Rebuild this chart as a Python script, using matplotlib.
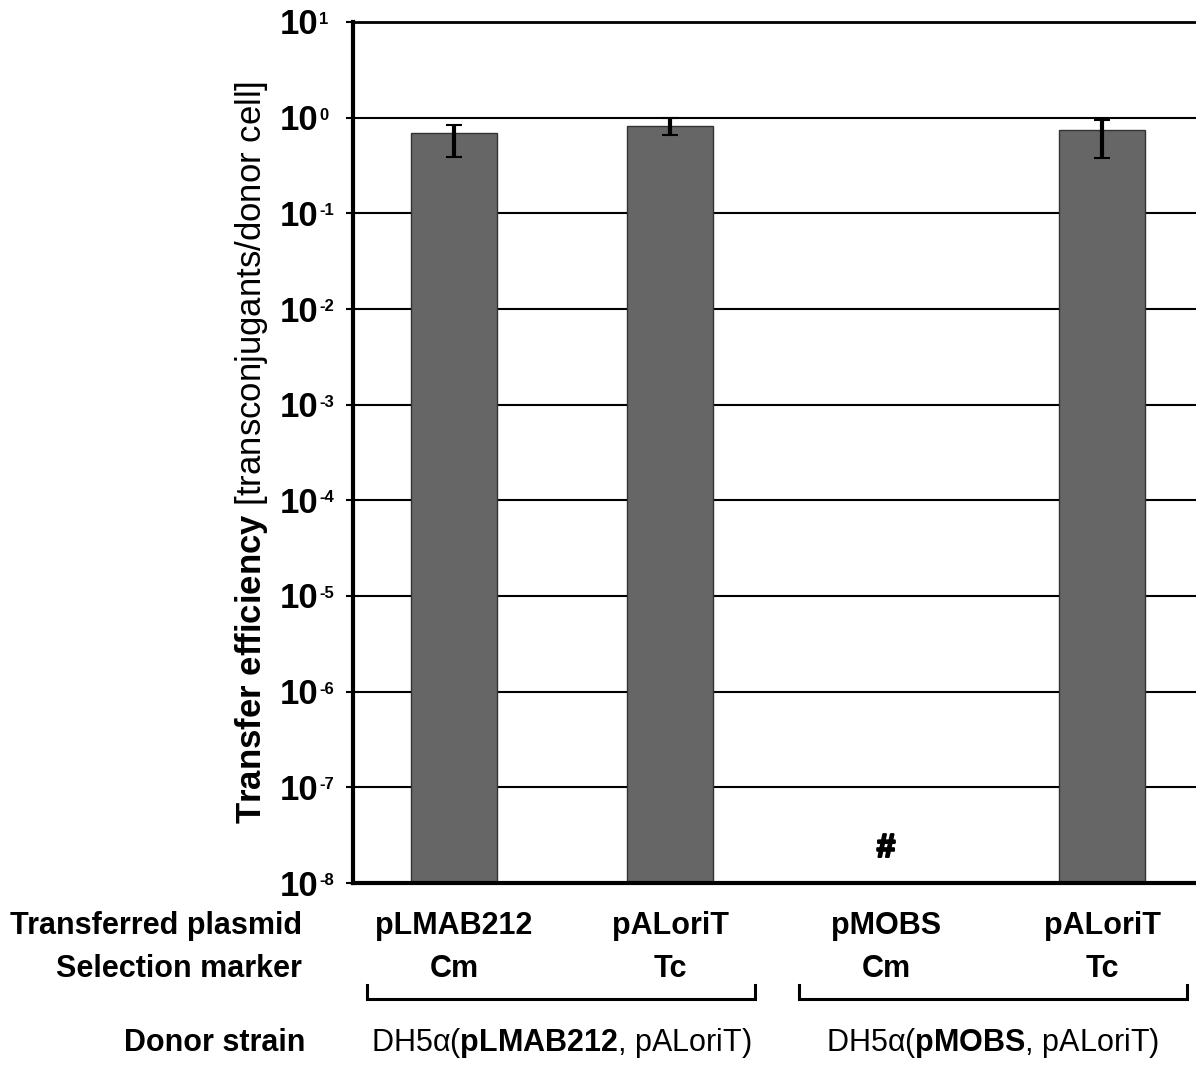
import matplotlib
matplotlib.use("Agg")
import matplotlib.pyplot as plt
import matplotlib.transforms as mtransforms
import matplotlib.patheffects as pe
import numpy as np

plt.rcParams['font.family'] = ['Liberation Sans', 'DejaVu Sans']
plt.rcParams['mathtext.fontset'] = 'custom'
plt.rcParams['mathtext.rm'] = 'Liberation Sans'
plt.rcParams['mathtext.bf'] = 'Liberation Sans:bold'
plt.rcParams['mathtext.it'] = 'Liberation Sans:italic'

# data
plasmids = ["pLMAB212", "pALoriT", "pMOBS", "pALoriT"]
markers = ["Cm", "Tc", "Cm", "Tc"]
efficiency = [0.69, 0.82, np.nan, 0.74]     # pMOBS: none detected (#)
err_low = [0.30, 0.16, np.nan, 0.36]
err_high = [0.15, 0.18, np.nan, 0.21]
decades = list(range(-8, 2))
donors = [r"DH5α($\mathbf{pLMAB212}$, pALoriT)", r"DH5α($\mathbf{pMOBS}$, pALoriT)"]
donor_groups = [(0, 1), (2, 3)]
not_detected = [2]

W, H = 1196, 1067
fig = plt.figure(figsize=(W / 100, H / 100), dpi=100)
ax = fig.add_axes([353 / W, 1 - 883 / H, 1 - 353 / W, (883 - 22) / H])

x = np.arange(len(plasmids))
eff = np.array(efficiency)
ok = ~np.isnan(eff)
ax.bar(x[ok], eff[ok], width=0.4, bottom=1e-8, color='#666666',
       edgecolor='#333333', linewidth=1.0, zorder=3)
ax.errorbar(x[ok], eff[ok], yerr=[np.array(err_low)[ok], np.array(err_high)[ok]],
            fmt='none', ecolor='black', elinewidth=3, capsize=6, capthick=1.5, zorder=4)
for i in not_detected:
    ax.text(i, 2.3e-8, "#", ha='center', va='center', fontsize=24, fontweight='bold',
            path_effects=[pe.withStroke(linewidth=1.6, foreground='black')])

ax.set_yscale('log')
ax.set_ylim(1e-8, 10)
ax.set_xlim(-0.468, 3.435)
ax.set_yticks([10.0 ** k for k in decades])
ax.set_yticklabels([])
ax.yaxis.set_minor_locator(matplotlib.ticker.NullLocator())
ax.set_xticks([])
ax.tick_params(axis='y', length=5, width=1.5)
ax.grid(axis='y', color='black', linewidth=1.5, zorder=0)
ax.set_axisbelow(True)
ax.spines['right'].set_visible(False)
ax.spines['left'].set_linewidth(3)
ax.spines['bottom'].set_linewidth(3)
ax.spines['top'].set_linewidth(2)
for s in ax.spines.values():
    s.set_zorder(5)

# tick labels: big bold "10" with a small exponent
ty = mtransforms.blended_transform_factory(fig.transFigure, ax.transData)
base = mtransforms.offset_copy(ty, fig=fig, x=0, y=-3, units='dots')
sup = mtransforms.offset_copy(ty, fig=fig, x=0, y=10, units='dots')
for k in decades:
    ax.text(318 / W, 10.0 ** k, "10", transform=base, ha='right', va='center',
            fontsize=25, fontweight='bold', clip_on=False)
    ax.text(319 / W, 10.0 ** k, "%d" % k, transform=sup,
            ha='left', va='top', fontsize=12, fontweight='bold', clip_on=False)

fig.text(252 / W, 1 - 452 / H, r"$\mathbf{Transfer\ efficiency}$ [transconjugants/donor cell]",
         rotation=90, ha='center', va='center', fontsize=25)

# category rows below the axis
tr = mtransforms.blended_transform_factory(ax.transData, fig.transFigure)
row_plasmid = 1 - 926 / H
row_marker = 1 - 969 / H
row_donor = 1 - 1043 / H
fig.text(302 / W, row_plasmid, "Transferred plasmid", ha='right', va='center', fontsize=22, fontweight='bold')
fig.text(302 / W, row_marker, "Selection marker", ha='right', va='center', fontsize=22, fontweight='bold')
fig.text(305 / W, row_donor, "Donor strain", ha='right', va='center', fontsize=22, fontweight='bold')
for i in range(len(plasmids)):
    ax.text(x[i], row_plasmid, plasmids[i], transform=tr, ha='center', va='center', fontsize=22, fontweight='bold')
    ax.text(x[i], row_marker, markers[i], transform=tr, ha='center', va='center', fontsize=22, fontweight='bold')

y_top = 1 - 985 / H
y_bot = 1 - 999 / H
for (a, b), label in zip(donor_groups, donors):
    xa, xb = a - 0.405, b + 0.395
    ax.plot([xa, xa, xb, xb], [y_top, y_bot, y_bot, y_top], transform=tr, color='black',
            linewidth=2.2, clip_on=False, solid_joinstyle='miter')
    ax.text((xa + xb) / 2, row_donor, label, transform=tr, ha='center', va='center', fontsize=22)

fig.savefig("out.png", dpi=100)
